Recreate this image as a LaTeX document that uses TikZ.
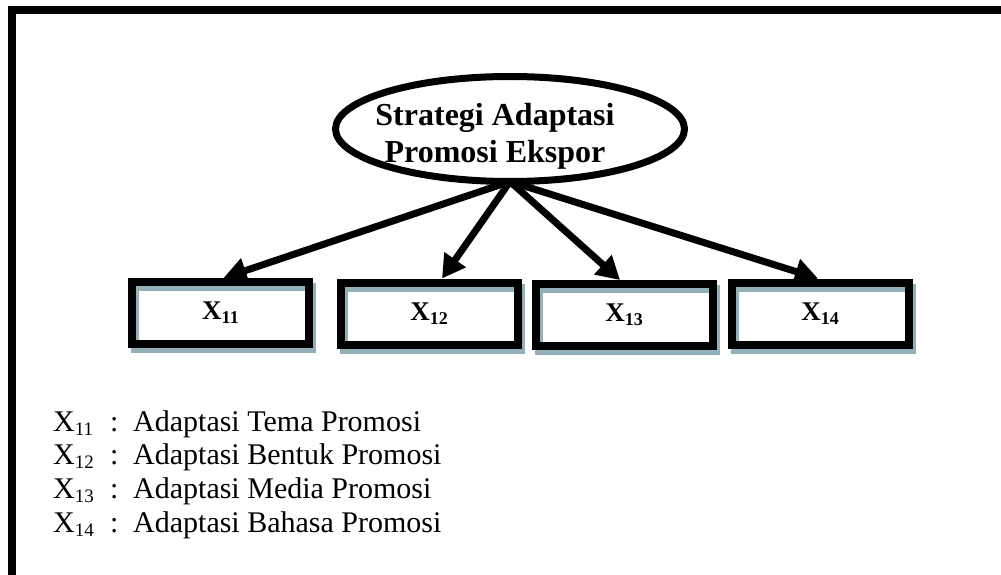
\documentclass[tikz,border=0pt]{standalone}
\usepackage{fontspec}
\setmainfont{Liberation Serif}
\usetikzlibrary{shapes.geometric,arrows.meta,backgrounds}
\definecolor{shadecol}{HTML}{93AFB8}
% lowered index with its own size
\newcommand{\lowidx}[2]{\raisebox{-4pt}{\fontsize{#1}{#1}\selectfont #2}}
\newcommand{\legendline}[2]{\makebox[57pt][l]{X\lowidx{19}{#1}}\makebox[23pt][l]{:}#2}

\begin{document}
\begin{tikzpicture}[x=1pt,y=-1pt,
  ovalnode/.style={ellipse, draw=black, line width=7pt, outer sep=0pt, inner sep=0pt,
    minimum width=349pt, minimum height=105pt},
  titletext/.style={inner sep=0pt, align=center, font=\fontsize{32}{37}\selectfont\bfseries},
  idbox/.style={rectangle, draw=black, line width=8pt, outer sep=0pt, inner sep=0pt,
    minimum width=177pt, minimum height=62pt,
    font=\fontsize{27}{30}\selectfont\bfseries},
  boxshadow/.style={draw=shadecol, line width=8pt},
  link/.style={draw=black, line width=7pt, -{Triangle[length=23pt,width=25pt]}},
  legend/.style={anchor=base west, inner sep=0pt, font=\fontsize{30}{34}\selectfont}]

\useasboundingbox (0,0) rectangle (1001,575);

% outer frame, only its top and left edges fall on the page
\draw[line width=8pt] (12,620) -- (12,10) -- (1040,10);

% main construct
\node[ovalnode] (ell) at (510,129) {};
\node[titletext] (title) at (495,136) {Strategi Adaptasi\\Promosi Ekspor};

% indicators
\node[idbox] (b1) at (220.5,313) {X\lowidx{18}{11}};
\node[idbox] (b2) at (429,313.5) {X\lowidx{18}{12}};
\node[idbox] (b3) at (624,315) {X\lowidx{18}{13}};
\node[idbox] (b4) at (820,313.5) {X\lowidx{18}{14}};

% page ground and shifted outline behind each box
\begin{scope}[on background layer]
  \fill[white] (-10,-10) rectangle (1020,590);
  \foreach \b in {b1,b2,b3,b4}
    \draw[boxshadow] ([shift={(3,5)}]\b.south west) rectangle ([shift={(3,5)}]\b.north east);
\end{scope}

% arrows from the construct to its indicators
\draw[link] (ell.south) -- ([xshift=3pt,yshift=4pt]b1.north);
\draw[link] (ell.south) -- ([xshift=13pt,yshift=4pt]b2.north);
\draw[link] (ell.south) -- ([xshift=-4pt,yshift=4pt]b3.north);
\draw[link] (ell.south) -- ([xshift=-2pt,yshift=4pt]b4.north);

% legend
\node[legend] (l1) at (53,431) {\legendline{11}{Adaptasi Tema Promosi}};
\node[legend] (l2) at (53,464.7) {\legendline{12}{Adaptasi Bentuk Promosi}};
\node[legend] (l3) at (53,498.3) {\legendline{13}{Adaptasi Media Promosi}};
\node[legend] (l4) at (53,532) {\legendline{14}{Adaptasi Bahasa Promosi}};
\end{tikzpicture}
\end{document}
